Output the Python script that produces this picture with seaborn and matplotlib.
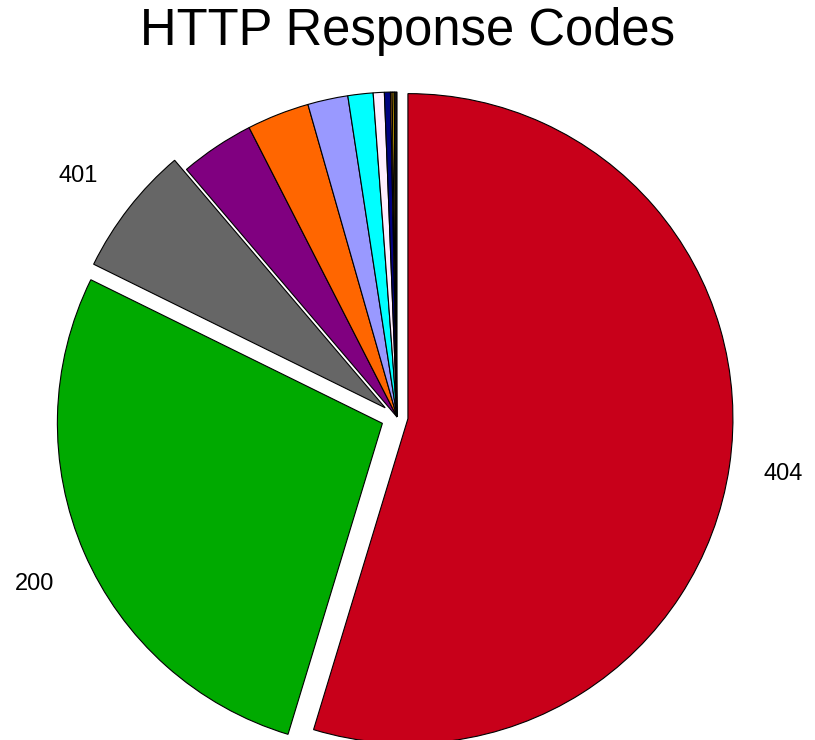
import matplotlib
matplotlib.use("Agg")
import matplotlib.pyplot as plt
import seaborn as sns

sns.set_style("white")
plt.rcParams["font.family"] = ["Liberation Sans", "DejaVu Sans"]

# Share of responses per status code (clockwise from 12 o'clock)
labels = ["404", "200", "401", "", "", "", "", "", "", "", "", ""]
shares = [54.7, 27.6, 6.5, 3.7, 3.1, 2.0, 1.25, 0.55, 0.30, 0.08, 0.10, 0.14]
colors = ["#C8001A", "#00AA00", "#666666", "#800080", "#FF6600", "#9999FF",
          "#00FFFF", "#FFEEFF", "#000080", "#FF9933", "#FFCC00", "#111111"]
explode = [0.034, 0.049, 0.046, 0, 0, 0, 0, 0, 0, 0, 0, 0]

W, H, DPI = 815, 740, 100
fig = plt.figure(figsize=(W / DPI, H / DPI), dpi=DPI)
ax = fig.add_axes([0, 0, 1, 1])

wedges, texts = ax.pie(shares, labels=labels, colors=colors, explode=explode,
                       startangle=90, counterclock=False, labeldistance=1.12,
                       wedgeprops=dict(edgecolor="black", linewidth=0.8),
                       textprops=dict(fontsize=17, color="black"))

# pixel-exact placement: radius 325 px, centre at (397, 417) from top-left
r_px, cx, cy = 325.0, 397.0, 417.0
ax.set_xlim(-cx / r_px, (W - cx) / r_px)
ax.set_ylim(-(H - cy) / r_px, cy / r_px)
ax.set_aspect("auto")
ax.axis("off")

# small nudges of the outer labels (in pixels: right, up)
nudges = {"404": (-4, -2), "200": (6, -16), "401": (0, 8)}
for t in texts:
    dx, dy = nudges.get(t.get_text(), (0, 0))
    x, y = t.get_position()
    t.set_position((x + dx / r_px, y + dy / r_px))

fig.text(0.5, 1 - 31 / H, "HTTP Response Codes", ha="center", va="center",
         fontsize=36.5, color="black")

fig.savefig("out.png", dpi=DPI)
